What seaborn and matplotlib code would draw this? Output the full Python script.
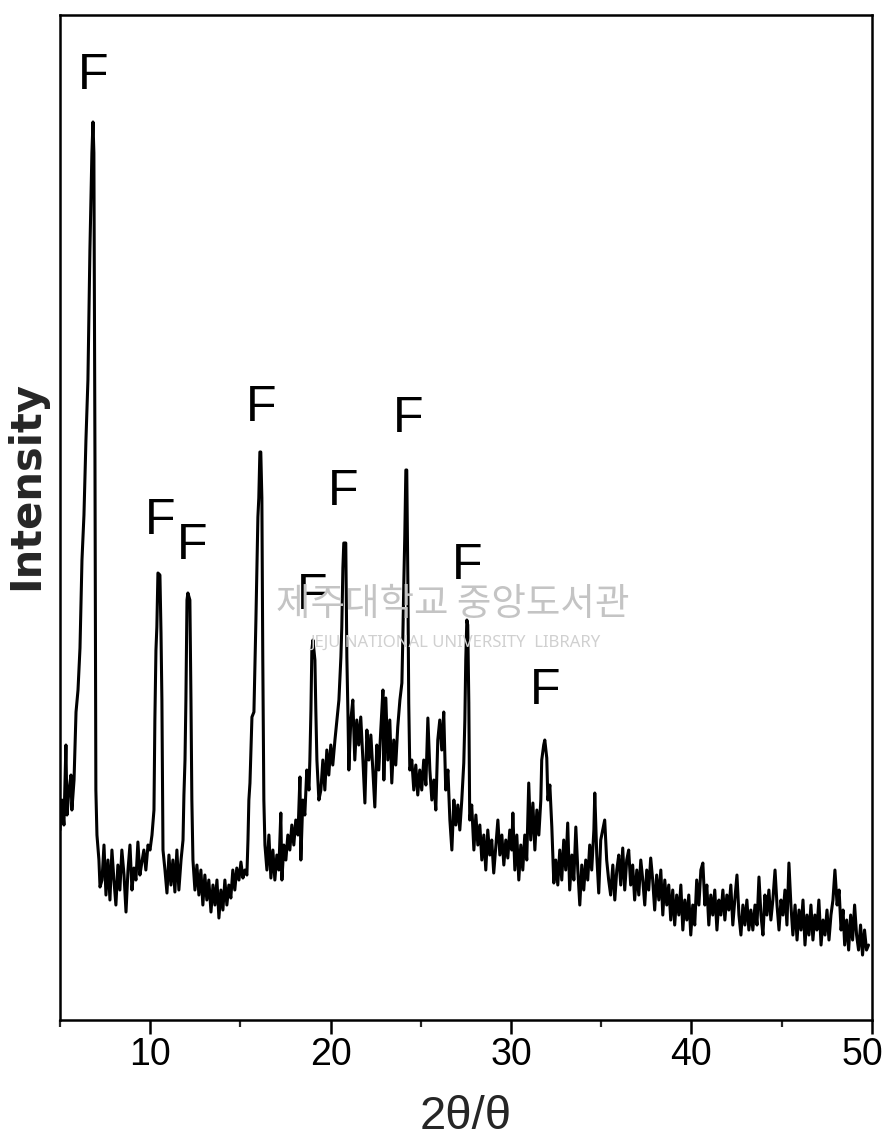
import matplotlib
matplotlib.use("Agg")
import matplotlib.pyplot as plt
import matplotlib.transforms as mtransforms
import seaborn as sns
import pandas as pd

# ---- data (2theta in degrees, intensity in arbitrary units) ----
two_theta = [
    5.00, 5.11, 5.22, 5.33, 5.39, 5.50, 5.61, 5.66, 5.78, 5.89, 6.00, 6.11, 6.22, 6.33, 6.44, 6.55,
    6.66, 6.77, 6.83, 6.88, 6.94, 6.99, 7.05, 7.16, 7.22,
    7.33, 7.44, 7.55, 7.66, 7.77, 7.88, 7.99, 8.10, 8.21, 8.32, 8.43, 8.55, 8.66, 8.77, 8.88, 8.99,
    9.10, 9.21, 9.32, 9.43, 9.54, 9.65, 9.76, 9.88, 9.99,
    10.10, 10.21, 10.26, 10.32, 10.37, 10.43, 10.54, 10.60, 10.65, 10.71, 10.82,
    10.93, 11.04, 11.15, 11.26, 11.37, 11.48, 11.59, 11.71, 11.82,
    11.87, 11.93, 11.98, 12.04, 12.09, 12.20, 12.26, 12.31, 12.37, 12.48,
    12.59, 12.70, 12.81, 12.92, 13.03, 13.14, 13.25, 13.37, 13.48, 13.59, 13.70, 13.81, 13.92, 14.03,
    14.14, 14.25, 14.36, 14.47, 14.58, 14.69, 14.80, 14.92, 15.03, 15.14, 15.25, 15.36,
    15.42, 15.47, 15.53, 15.64, 15.75, 15.86, 15.97, 16.02, 16.08, 16.13, 16.19, 16.24, 16.30, 16.36,
    16.47, 16.58, 16.69, 16.80, 16.91, 17.02, 17.13, 17.24, 17.30, 17.41, 17.52, 17.63, 17.74, 17.85,
    17.96, 18.07, 18.19, 18.30, 18.35, 18.46, 18.57, 18.68, 18.80, 18.85,
    18.91, 18.96, 19.02, 19.13, 19.18, 19.24, 19.35, 19.46, 19.57, 19.68, 19.79, 19.90, 20.01, 20.12,
    20.24, 20.35,
    20.46, 20.57, 20.62, 20.68, 20.73, 20.84, 20.90, 20.96, 21.01, 21.12, 21.23, 21.34, 21.45, 21.56,
    21.67, 21.79, 21.90, 22.01, 22.12, 22.23, 22.34, 22.45, 22.56, 22.67, 22.78, 22.90, 22.95, 23.06,
    23.17, 23.28, 23.39, 23.50, 23.61, 23.72, 23.84, 23.95,
    24.00, 24.06, 24.11, 24.17, 24.22, 24.28, 24.33, 24.39, 24.50, 24.61, 24.72, 24.83, 24.94, 25.05,
    25.16, 25.28, 25.39, 25.50, 25.61, 25.72, 25.83, 25.94, 26.05, 26.16, 26.27, 26.38, 26.50, 26.61,
    26.72, 26.83, 26.94, 27.05, 27.16, 27.27, 27.38,
    27.44, 27.49, 27.55, 27.60, 27.66, 27.71, 27.82, 27.94, 28.05, 28.16, 28.27, 28.38, 28.49, 28.60,
    28.71, 28.82, 28.93, 29.04, 29.16, 29.27, 29.38, 29.49, 29.60, 29.71, 29.82, 29.93, 30.04, 30.10,
    30.21, 30.32, 30.43, 30.54, 30.65, 30.76, 30.87, 30.98, 31.09, 31.21, 31.32, 31.43, 31.54,
    31.65, 31.70, 31.81, 31.87, 31.98, 32.04, 32.15, 32.26, 32.37, 32.48, 32.59, 32.70, 32.81, 32.92,
    33.03, 33.14, 33.25, 33.37, 33.48, 33.59, 33.70, 33.81, 33.92, 34.03, 34.14, 34.25, 34.36, 34.47,
    34.59, 34.64, 34.75, 34.86, 34.97, 35.08, 35.19, 35.30, 35.41, 35.52, 35.64, 35.75, 35.86, 35.97,
    36.08, 36.19, 36.30, 36.41, 36.52, 36.63, 36.74, 36.85, 36.97, 37.08, 37.19, 37.30, 37.41, 37.52,
    37.63, 37.74, 37.85, 37.96, 38.07, 38.19, 38.30, 38.41, 38.52, 38.63, 38.74, 38.85, 38.96, 39.07,
    39.18, 39.30, 39.41, 39.52, 39.63, 39.74, 39.85, 39.96, 40.07, 40.18, 40.29, 40.41, 40.52, 40.63,
    40.74, 40.85, 40.96, 41.07, 41.18, 41.29, 41.41, 41.52, 41.63, 41.74, 41.85, 41.96, 42.07, 42.18,
    42.29, 42.40, 42.52, 42.63, 42.74, 42.85, 42.96, 43.07, 43.18, 43.29, 43.40, 43.52, 43.63, 43.74,
    43.85, 43.96, 44.07, 44.18, 44.29, 44.40, 44.51, 44.63, 44.74, 44.85, 44.96, 45.07, 45.18, 45.29,
    45.40, 45.51, 45.62, 45.74, 45.85, 45.96, 46.07, 46.18, 46.29, 46.40, 46.51, 46.62, 46.73, 46.84,
    46.95, 47.06, 47.18, 47.29, 47.40, 47.51, 47.62, 47.73, 47.84, 47.95, 48.07, 48.18, 48.29, 48.40,
    48.49, 48.60, 48.71, 48.82, 48.93, 49.04, 49.15, 49.26, 49.37, 49.48, 49.59, 49.70, 49.81,
]

intensity = [
    190, 220, 195, 275, 205, 230, 245, 210, 240, 308, 330, 372, 460, 505, 580, 640,
    770, 867, 898, 867, 560, 230, 185, 160, 133,
    140, 175, 125, 160, 120, 170, 140, 115, 155, 130, 170, 145, 108, 150, 175, 130,
    152, 140, 178, 145, 158, 170, 150, 175, 170,
    185, 210, 300, 370, 393, 447, 445, 387, 320, 170, 150,
    127, 165, 135, 160, 128, 170, 130, 160, 180,
    225, 260, 320, 420, 427, 420, 320, 220, 160, 130,
    155, 125, 150, 115, 145, 120, 140, 108, 135, 115, 140, 102, 130, 110,
    140, 115, 135, 122, 150, 130, 152, 140, 158, 142, 150, 145,
    180, 220, 237, 303, 308, 400, 503, 522, 568, 568, 522, 363, 220, 175,
    150, 185, 142, 170, 140, 165, 150, 207, 140, 175, 160, 185, 170, 195,
    175, 200, 185, 243, 160, 220, 205, 250, 230, 260,
    310, 370, 380, 360, 310, 260, 220, 230, 260, 230, 270, 245, 275, 255,
    280, 300,
    320, 363, 393, 452, 477, 477, 363, 307, 250, 300, 320, 260, 300, 275,
    303, 260, 217, 290, 260, 285, 250, 213, 275, 250, 290, 330, 240, 322,
    260, 300, 237, 280, 255, 293, 320, 337,
    380, 440, 483, 550, 550, 440, 317, 250, 260, 230, 255, 225, 250, 230,
    260, 235, 302, 250, 220, 240, 210, 280, 300, 270, 308, 230, 250, 200,
    170, 220, 195, 215, 190, 220, 257,
    300, 360, 400, 395, 317, 200, 215, 170, 205, 175, 195, 160, 185, 150,
    190, 165, 180, 147, 175, 200, 165, 185, 155, 180, 162, 190, 170, 207,
    150, 185, 140, 175, 150, 185, 160, 237, 180, 217, 170, 210, 185,
    220, 260, 275, 280, 262, 220, 235, 193, 137, 160, 135, 170, 140, 180,
    150, 197, 130, 165, 140, 193, 150, 115, 155, 130, 160, 140, 175, 150,
    190, 227, 165, 127, 180, 190, 200, 160, 140, 125, 155, 120, 150, 165,
    135, 172, 130, 160, 170, 135, 155, 120, 150, 125, 160, 140, 115, 150,
    130, 162, 140, 110, 145, 120, 150, 105, 140, 115, 135, 100, 130, 95,
    125, 105, 135, 90, 120, 100, 125, 85, 115, 95, 140, 115, 150, 157,
    115, 135, 95, 125, 105, 130, 90, 120, 105, 130, 100, 125, 110, 135,
    95, 120, 145, 105, 85, 115, 95, 120, 90, 110, 90, 115, 95, 143,
    105, 85, 125, 105, 130, 100, 120, 150, 115, 90, 120, 105, 130, 95,
    157, 115, 85, 115, 80, 110, 90, 120, 75, 105, 85, 115, 80, 105,
    90, 120, 75, 100, 85, 110, 80, 105, 120, 150, 115, 130, 90, 110,
    75, 100, 70, 105, 80, 115, 85, 70, 95, 65, 90, 70, 75,
]

# peak labels ("F") : positions in data units
label_text = ["F"] * 9
label_x = [6.83, 10.54, 12.31, 16.14, 18.96, 20.68, 24.28, 27.55, 31.87]
label_y = [944, 499, 474, 612, 424, 528, 601, 454, 329]

x_ticks = [10, 20, 30, 40, 50]
x_minor = [5, 15, 25, 35, 45]

df = pd.DataFrame({"two_theta": two_theta, "intensity": intensity})

sns.set_style("ticks")
plt.rcParams["font.family"] = ["DejaVu Sans"]
arial = ["Liberation Sans", "DejaVu Sans"]

fig = plt.figure(figsize=(8.87, 11.42), dpi=100)
ax = fig.add_axes([0.0676, 0.1068, 0.9154, 0.8801])

sns.lineplot(data=df, x="two_theta", y="intensity", color="black", linewidth=2.2,
             estimator=None, sort=False, ax=ax)

ax.set_xlim(5, 50)
ax.set_ylim(0, 1005)
ax.set_xticks(x_ticks)
ax.set_xticks(x_minor, minor=True)
ax.set_yticks([])
ax.tick_params(axis="x", which="major", length=10, width=1.8, direction="out",
               pad=2, labelsize=27, colors="black")
ax.tick_params(axis="x", which="minor", length=5, width=1.6, direction="out")
ticklabels = ax.get_xticklabels()
for lab in ticklabels:
    lab.set_family(arial)
# keep the last label ("50") inside the picture, as in the reference
ticklabels[-1].set_transform(ticklabels[-1].get_transform() +
                             mtransforms.ScaledTranslation(-9 / 100, 0, fig.dpi_scale_trans))
for s in ax.spines.values():
    s.set_visible(True)
    s.set_linewidth(1.8)
    s.set_color("black")

ax.set_xlabel("2θ/θ", fontsize=34, family=arial, labelpad=16)
ax.set_ylabel("Intensity", fontsize=30, fontweight="bold")
ax.yaxis.set_label_coords(-0.016, 0.532)

for t, xx, yy in zip(label_text, label_x, label_y):
    ax.text(xx, yy, t, ha="center", va="center", fontsize=36, family=arial, color="black")

# library watermark
fig.text(0.51, 1 - 605 / 1142, "제주대학교 중앙도서관", ha="center", va="center",
         fontsize=27, color="#c4c4c4", family=["Noto Sans CJK KR", "DejaVu Sans"], zorder=0)
fig.text(0.513, 1 - 643 / 1142, "JEJU NATIONAL UNIVERSITY  LIBRARY", ha="center", va="center",
         fontsize=12, color="#d0d0d0", family=["Noto Sans", "DejaVu Sans"], zorder=0)

fig.savefig("out.png", dpi=100)
